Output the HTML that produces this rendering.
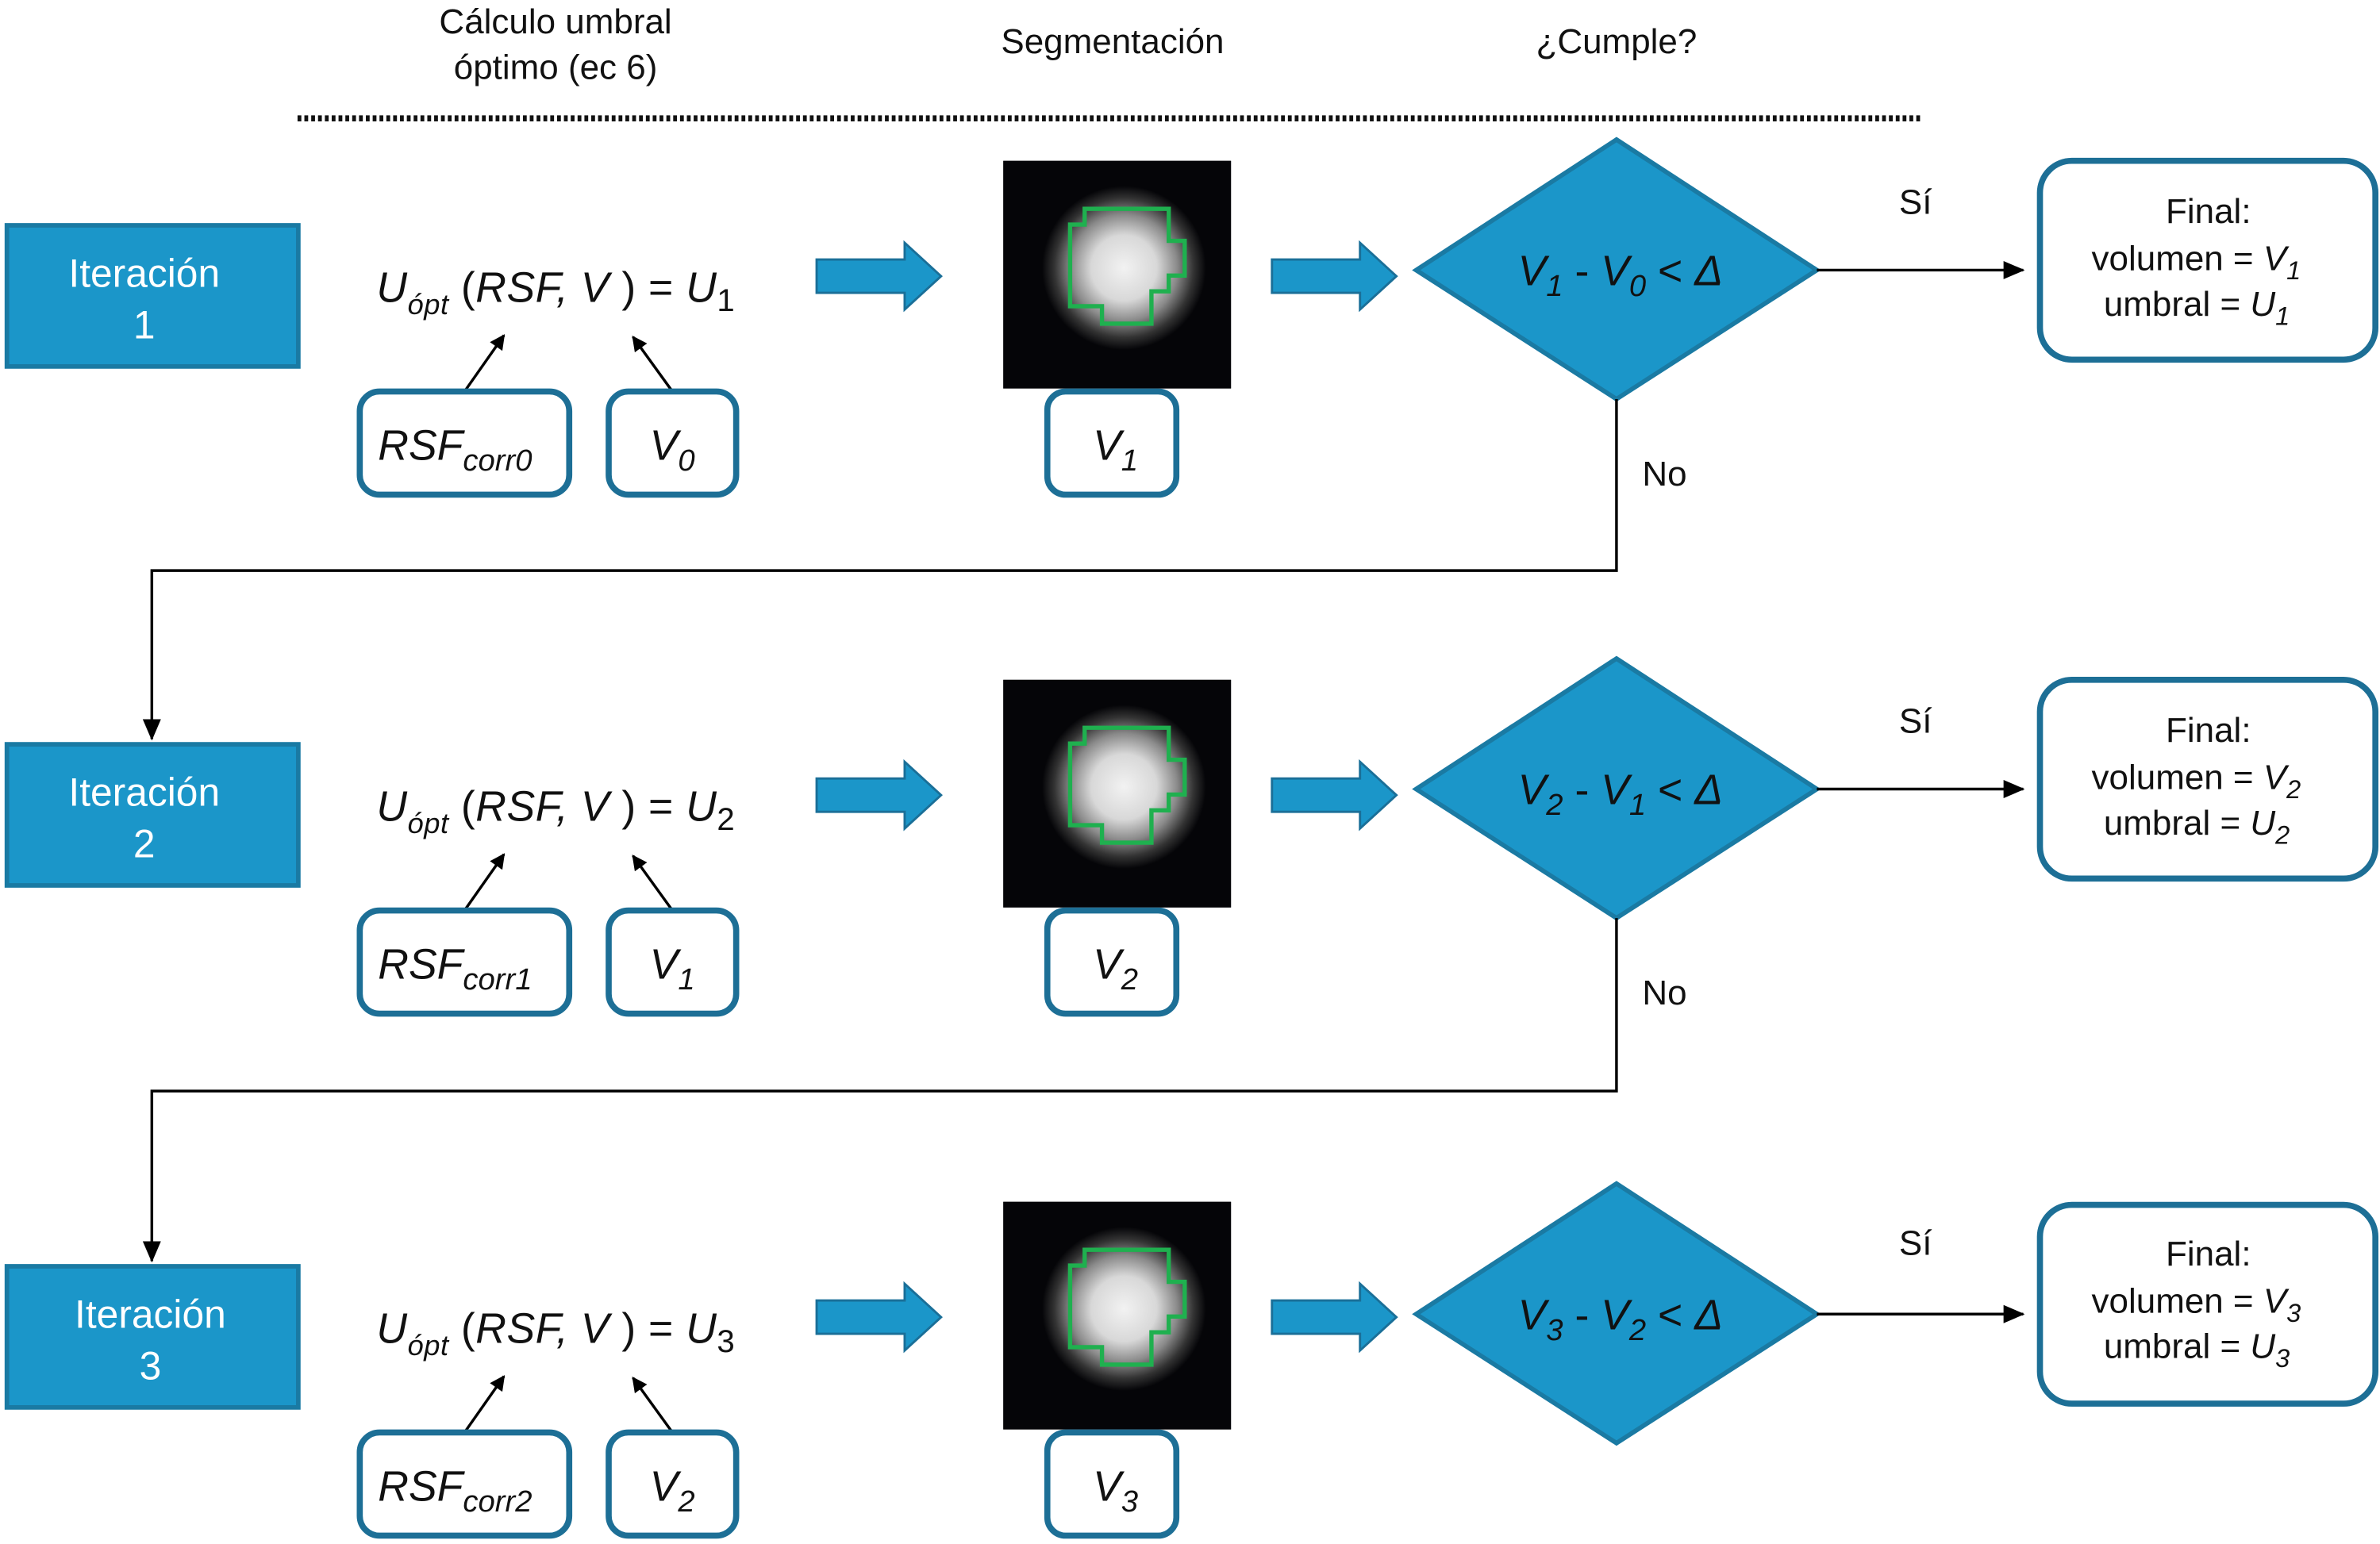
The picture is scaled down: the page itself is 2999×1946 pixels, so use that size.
<!DOCTYPE html>
<html><head><meta charset="utf-8"><style>
html,body{margin:0;padding:0;background:#fff;}
svg{display:block;}
text{font-family:"Liberation Sans",Arial,sans-serif;}
</style></head><body>
<svg width="2999" height="1946" viewBox="0 0 1568 1017.5" xmlns="http://www.w3.org/2000/svg">
<defs>
<marker id="ah" markerWidth="10" markerHeight="10" refX="9" refY="5" orient="auto" markerUnits="userSpaceOnUse">
<path d="M0,0 L10,5 L0,10 z" fill="#000"/></marker>
<marker id="ah2" markerWidth="14" markerHeight="14" refX="13" refY="7" orient="auto" markerUnits="userSpaceOnUse">
<path d="M0,1 L14,7 L0,13 z" fill="#000"/></marker>
<radialGradient id="blob" cx="0.53" cy="0.47" r="0.36">
<stop offset="0" stop-color="#f2f2f2"/><stop offset="0.4" stop-color="#d8d8d8"/>
<stop offset="0.65" stop-color="#8a8a8a"/><stop offset="0.85" stop-color="#333"/><stop offset="1" stop-color="#050508"/>
</radialGradient>
<g id="img">
<rect x="0" y="0" width="150" height="150" fill="#050508"/>
<rect x="0" y="0" width="150" height="150" fill="url(#blob)"/>
<polygon points="53.6,31.6 109,31.6 109,52.7 119.5,52.7 119.5,75.6 109,75.6 109,86 97.6,86 97.6,107.3 65,107.3 65,95.8 44,95.8 44,42 53.6,42" fill="none" stroke="#1fb04f" stroke-width="2.8"/>
</g>
<g id="barrow">
<path d="M0,-11 L58,-11 L58,-22 L82,0 L58,22 L58,11 L0,11 z" fill="#1b96c9" stroke="#1a6f98" stroke-width="1.5"/>
</g>
</defs>

<g font-size="23" fill="#111" text-anchor="middle">
<text x="366" y="22">Cálculo umbral</text>
<text x="366" y="52">óptimo (ec 6)</text>
<text x="733" y="35">Segmentación</text>
<text x="1065" y="35">¿Cumple?</text>
</g>
<line x1="196" y1="78" x2="1265" y2="78" stroke="#111" stroke-width="4" stroke-dasharray="2.5,2"/>

<g id="row1">
<rect x="4.5" y="148.5" width="192" height="93" fill="#1b96c9" stroke="#1a7aa3" stroke-width="3"/>
<text x="95" y="189" font-size="26" fill="#fff" text-anchor="middle">Iteración</text>
<text x="95" y="223" font-size="26" fill="#fff" text-anchor="middle">1</text>
<text x="248" y="199" font-size="28" fill="#111" font-style="italic" textLength="236">U<tspan font-size="19" dy="8">ópt</tspan><tspan dy="-8" font-style="normal"> (</tspan>RSF, V <tspan font-style="normal">) = </tspan>U<tspan font-style="normal" font-size="21" dy="6">1</tspan></text>
<line x1="306" y1="258" x2="332" y2="221" stroke="#000" stroke-width="1.8" marker-end="url(#ah)"/>
<line x1="443" y1="258" x2="417" y2="222" stroke="#000" stroke-width="1.8" marker-end="url(#ah)"/>
<rect x="237" y="258" width="138" height="68" rx="13" fill="#fff" stroke="#1d6f96" stroke-width="4"/>
<text x="249" y="303" font-size="28" font-style="italic" fill="#111">RSF<tspan font-size="20" dy="7">corr0</tspan></text>
<rect x="401" y="258" width="84" height="68" rx="13" fill="#fff" stroke="#1d6f96" stroke-width="4"/>
<text x="428" y="303" font-size="28" font-style="italic" fill="#111">V<tspan font-size="20" dy="7">0</tspan></text>
<use href="#barrow" x="538" y="182"/>
<use href="#img" x="661" y="106"/>
<rect x="690" y="258" width="85" height="68" rx="12" fill="#fff" stroke="#1d6f96" stroke-width="4"/>
<text x="720" y="303" font-size="28" font-style="italic" fill="#111">V<tspan font-size="20" dy="7">1</tspan></text>
<use href="#barrow" x="838" y="182"/>
<polygon points="1065,92 1197,178 1065,263 933,178" fill="#1b96c9" stroke="#1a7aa3" stroke-width="3"/>
<text x="1000" y="188" font-size="28" font-style="italic" fill="#111">V<tspan font-size="20" dy="7">1</tspan><tspan dy="-7" font-style="normal"> - </tspan>V<tspan font-size="20" dy="7">0</tspan><tspan dy="-7" font-style="normal"> &lt; </tspan>Δ</text>
<line x1="1197" y1="178" x2="1333" y2="178" stroke="#000" stroke-width="1.8" marker-end="url(#ah2)"/>
<text x="1262" y="141" font-size="23" fill="#111" text-anchor="middle">Sí</text>
<rect x="1344" y="106" width="221" height="131" rx="21" fill="#fff" stroke="#1d6f96" stroke-width="4"/>
<text x="1455" y="147" font-size="23" fill="#111" text-anchor="middle">Final:</text>
<text x="1378" y="178" font-size="23" fill="#111">volumen = <tspan font-style="italic">V</tspan><tspan font-style="italic" font-size="17" dy="6">1</tspan></text>
<text x="1386" y="208" font-size="23" fill="#111">umbral = <tspan font-style="italic">U</tspan><tspan font-style="italic" font-size="17" dy="6">1</tspan></text>
</g>

<g transform="translate(0,342)">
<rect x="4.5" y="148.5" width="192" height="93" fill="#1b96c9" stroke="#1a7aa3" stroke-width="3"/>
<text x="95" y="189" font-size="26" fill="#fff" text-anchor="middle">Iteración</text>
<text x="95" y="223" font-size="26" fill="#fff" text-anchor="middle">2</text>
<text x="248" y="199" font-size="28" fill="#111" font-style="italic" textLength="236">U<tspan font-size="19" dy="8">ópt</tspan><tspan dy="-8" font-style="normal"> (</tspan>RSF, V <tspan font-style="normal">) = </tspan>U<tspan font-style="normal" font-size="21" dy="6">2</tspan></text>
<line x1="306" y1="258" x2="332" y2="221" stroke="#000" stroke-width="1.8" marker-end="url(#ah)"/>
<line x1="443" y1="258" x2="417" y2="222" stroke="#000" stroke-width="1.8" marker-end="url(#ah)"/>
<rect x="237" y="258" width="138" height="68" rx="13" fill="#fff" stroke="#1d6f96" stroke-width="4"/>
<text x="249" y="303" font-size="28" font-style="italic" fill="#111">RSF<tspan font-size="20" dy="7">corr1</tspan></text>
<rect x="401" y="258" width="84" height="68" rx="13" fill="#fff" stroke="#1d6f96" stroke-width="4"/>
<text x="428" y="303" font-size="28" font-style="italic" fill="#111">V<tspan font-size="20" dy="7">1</tspan></text>
<use href="#barrow" x="538" y="182"/>
<use href="#img" x="661" y="106"/>
<rect x="690" y="258" width="85" height="68" rx="12" fill="#fff" stroke="#1d6f96" stroke-width="4"/>
<text x="720" y="303" font-size="28" font-style="italic" fill="#111">V<tspan font-size="20" dy="7">2</tspan></text>
<use href="#barrow" x="838" y="182"/>
<polygon points="1065,92 1197,178 1065,263 933,178" fill="#1b96c9" stroke="#1a7aa3" stroke-width="3"/>
<text x="1000" y="188" font-size="28" font-style="italic" fill="#111">V<tspan font-size="20" dy="7">2</tspan><tspan dy="-7" font-style="normal"> - </tspan>V<tspan font-size="20" dy="7">1</tspan><tspan dy="-7" font-style="normal"> &lt; </tspan>Δ</text>
<line x1="1197" y1="178" x2="1333" y2="178" stroke="#000" stroke-width="1.8" marker-end="url(#ah2)"/>
<text x="1262" y="141" font-size="23" fill="#111" text-anchor="middle">Sí</text>
<rect x="1344" y="106" width="221" height="131" rx="21" fill="#fff" stroke="#1d6f96" stroke-width="4"/>
<text x="1455" y="147" font-size="23" fill="#111" text-anchor="middle">Final:</text>
<text x="1378" y="178" font-size="23" fill="#111">volumen = <tspan font-style="italic">V</tspan><tspan font-style="italic" font-size="17" dy="6">2</tspan></text>
<text x="1386" y="208" font-size="23" fill="#111">umbral = <tspan font-style="italic">U</tspan><tspan font-style="italic" font-size="17" dy="6">2</tspan></text>
</g>

<g transform="translate(0,686)">
<rect x="4.5" y="148.5" width="192" height="93" fill="#1b96c9" stroke="#1a7aa3" stroke-width="3"/>
<text x="99" y="189" font-size="26" fill="#fff" text-anchor="middle">Iteración</text>
<text x="99" y="223" font-size="26" fill="#fff" text-anchor="middle">3</text>
<text x="248" y="199" font-size="28" fill="#111" font-style="italic" textLength="236">U<tspan font-size="19" dy="8">ópt</tspan><tspan dy="-8" font-style="normal"> (</tspan>RSF, V <tspan font-style="normal">) = </tspan>U<tspan font-style="normal" font-size="21" dy="6">3</tspan></text>
<line x1="306" y1="258" x2="332" y2="221" stroke="#000" stroke-width="1.8" marker-end="url(#ah)"/>
<line x1="443" y1="258" x2="417" y2="222" stroke="#000" stroke-width="1.8" marker-end="url(#ah)"/>
<rect x="237" y="258" width="138" height="68" rx="13" fill="#fff" stroke="#1d6f96" stroke-width="4"/>
<text x="249" y="303" font-size="28" font-style="italic" fill="#111">RSF<tspan font-size="20" dy="7">corr2</tspan></text>
<rect x="401" y="258" width="84" height="68" rx="13" fill="#fff" stroke="#1d6f96" stroke-width="4"/>
<text x="428" y="303" font-size="28" font-style="italic" fill="#111">V<tspan font-size="20" dy="7">2</tspan></text>
<use href="#barrow" x="538" y="182"/>
<use href="#img" x="661" y="106"/>
<rect x="690" y="258" width="85" height="68" rx="12" fill="#fff" stroke="#1d6f96" stroke-width="4"/>
<text x="720" y="303" font-size="28" font-style="italic" fill="#111">V<tspan font-size="20" dy="7">3</tspan></text>
<use href="#barrow" x="838" y="182"/>
<polygon points="1065,94 1197,180 1065,265 933,180" fill="#1b96c9" stroke="#1a7aa3" stroke-width="3"/>
<text x="1000" y="190" font-size="28" font-style="italic" fill="#111">V<tspan font-size="20" dy="7">3</tspan><tspan dy="-7" font-style="normal"> - </tspan>V<tspan font-size="20" dy="7">2</tspan><tspan dy="-7" font-style="normal"> &lt; </tspan>Δ</text>
<line x1="1197" y1="180" x2="1333" y2="180" stroke="#000" stroke-width="1.8" marker-end="url(#ah2)"/>
<text x="1262" y="141" font-size="23" fill="#111" text-anchor="middle">Sí</text>
<rect x="1344" y="108" width="221" height="131" rx="21" fill="#fff" stroke="#1d6f96" stroke-width="4"/>
<text x="1455" y="148" font-size="23" fill="#111" text-anchor="middle">Final:</text>
<text x="1378" y="179" font-size="23" fill="#111">volumen = <tspan font-style="italic">V</tspan><tspan font-style="italic" font-size="17" dy="6">3</tspan></text>
<text x="1386" y="209" font-size="23" fill="#111">umbral = <tspan font-style="italic">U</tspan><tspan font-style="italic" font-size="17" dy="6">3</tspan></text>
</g>

<polyline points="1065,263 1065,376 100,376 100,487" fill="none" stroke="#000" stroke-width="1.8" marker-end="url(#ah2)"/>
<text x="1082" y="320" font-size="23" fill="#111">No</text>
<polyline points="1065,605 1065,719 100,719 100,831" fill="none" stroke="#000" stroke-width="1.8" marker-end="url(#ah2)"/>
<text x="1082" y="662" font-size="23" fill="#111">No</text>
</svg>
</body></html>
